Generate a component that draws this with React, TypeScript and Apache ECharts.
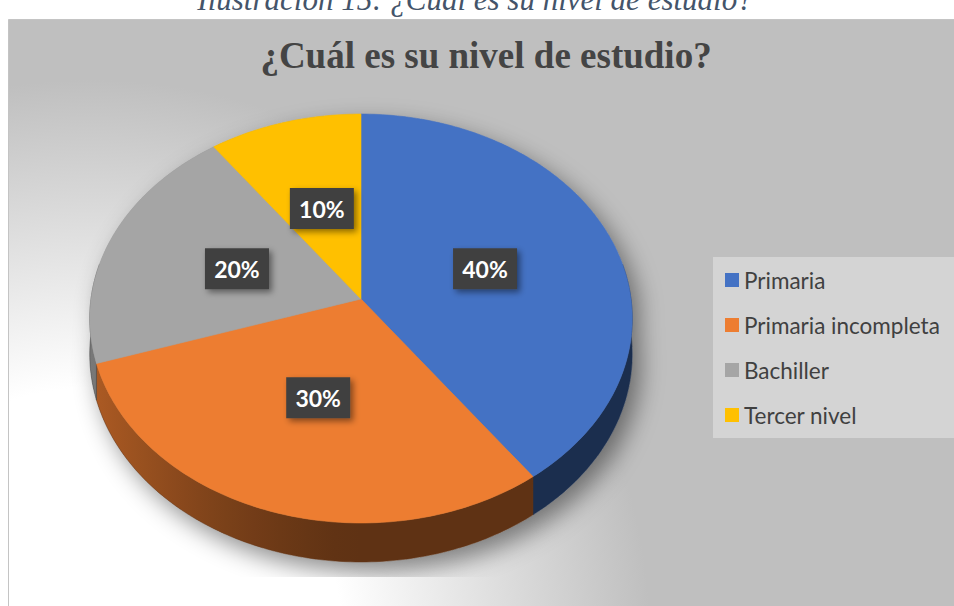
import React, { useEffect, useRef } from 'react';
import * as echarts from 'echarts';

const categories = ['Primaria', 'Primaria incompleta', 'Bachiller', 'Tercer nivel'];
const values = [40, 30, 20, 10];
const colors = ['#4472c4', '#ed7d31', '#a5a5a5', '#ffc000'];
const chartTitle = '¿Cuál es su nivel de estudio?';
const captionText = 'Ilustración 15: ¿Cuál es su nivel de estudio?';

// projection of the tilted disc (perspective)
const CX = 361, CY = 299, RX = 270, RY = 202.6, K = 0.0954, DEPTH = 35.3;
const LABEL_F = 0.49;

function proj(deg: number, f = 1, drop = 0): number[] {
  const t = (deg * Math.PI) / 180;
  const u = Math.sin(t) * f;
  const v = -Math.cos(t) * f;
  const s = 1 / (1 - K * v);
  return [CX + RX * u * s, CY + (RY * v + drop) * s];
}

function hexRgb(hex: string) {
  const n = parseInt(hex.slice(1), 16);
  return [(n >> 16) & 255, (n >> 8) & 255, n & 255];
}
function shade(hex: string, f: number) {
  const [r, g, b] = hexRgb(hex);
  return `rgb(${Math.round(r * f)},${Math.round(g * f)},${Math.round(b * f)})`;
}
function wallFactor(u: number) {
  return 0.4 + 0.33 * Math.pow(Math.max(0, -u), 1.5);
}

const bgGradient = () => ({
  type: 'radial',
  x: 90,
  y: 640,
  r: 560,
  global: true,
  colorStops: [
    { offset: 0, color: '#ffffff' },
    { offset: 0.45, color: '#ffffff' },
    { offset: 1, color: '#bfbfbf' },
  ],
});

export default function App() {
  const ref = useRef<HTMLDivElement>(null);
  useEffect(() => {
    if (!ref.current) return;
    const chart = echarts.init(ref.current, null, { renderer: 'svg' });
    const total = values.reduce((a, b) => a + b, 0);
    const cum = values.map((_, i) => values.slice(0, i).reduce((a, b) => a + b, 0));
    const data = values.map((v, i) => [i, v]);

    const sliceAngles = (i: number, v: number) => {
      const a0 = (cum[i] / total) * 360;
      return [a0, a0 + (v / total) * 360];
    };

    // silhouette for shadow
    const outline: number[][] = [];
    for (let d = 0; d <= 360; d += 2) {
      outline.push(d >= 90 && d <= 270 ? proj(d, 1, DEPTH) : proj(d));
    }

    const option: any = {
      animation: false,
      color: colors,
      title: [
        {
          text: captionText,
          left: 475,
          top: -16,
          padding: 0,
          textAlign: 'center',
          textStyle: {
            fontFamily: 'Liberation Serif',
            fontStyle: 'italic',
            fontWeight: 'normal',
            fontSize: 31,
            color: '#44546a',
          },
        },
        {
          text: chartTitle,
          left: 486,
          top: 37,
          padding: 0,
          textAlign: 'center',
          textStyle: {
            fontFamily: 'Liberation Serif',
            fontWeight: 'bold',
            fontSize: 37,
            color: '#444444',
          },
        },
      ],
      legend: {
        data: categories,
        orient: 'vertical',
        left: 725,
        top: 268,
        padding: 0,
        itemWidth: 14,
        itemHeight: 14,
        itemGap: 21,
        icon: 'rect',
        selectedMode: false,
        z: 5,
        textStyle: { fontFamily: 'Lato', fontSize: 22.5, color: '#404040', lineHeight: 24 },
      },
      graphic: [
        { type: 'rect', z: -10, shape: { x: 8.5, y: 19.5, width: 960, height: 600 }, style: { fill: bgGradient() } },
        {
          type: 'polygon',
          z: -9,
          shape: { points: outline },
          style: {
            fill: '#9a9a9a',
            shadowBlur: 24,
            shadowOffsetX: 8,
            shadowOffsetY: 10,
            shadowColor: 'rgba(0,0,0,0.45)',
          },
        },
        { type: 'rect', z: -8, shape: { x: 9, y: 577, width: 960, height: 40 }, style: { fill: bgGradient() } },
        { type: 'rect', z: -7, shape: { x: 8.5, y: 19.5, width: 960, height: 600 }, style: { fill: 'none', stroke: '#c4c4c4', lineWidth: 1 } },
        { type: 'rect', z: -6, shape: { x: 713, y: 257, width: 241, height: 181 }, style: { fill: '#d4d4d4' } },
      ],
      series: [
        {
          type: 'pie',
          name: 'legend',
          center: [-300, -300],
          radius: 5,
          silent: true,
          label: { show: false },
          labelLine: { show: false },
          data: categories.map((c, i) => ({ name: c, value: values[i] })),
        },
        {
          type: 'custom',
          name: 'walls',
          coordinateSystem: 'none',
          z: 2,
          silent: true,
          data,
          renderItem: (params: any, api: any) => {
            const i = params.dataIndex;
            const [a0, a1] = sliceAngles(i, api.value(1));
            const lo = Math.max(a0, 80);
            const hi = Math.min(a1, 280);
            if (hi <= lo) return { type: 'group', children: [] };
            const top: number[][] = [];
            const bot: number[][] = [];
            const n = Math.max(2, Math.ceil(hi - lo));
            for (let k = 0; k <= n; k++) {
              const d = lo + ((hi - lo) * k) / n;
              top.push(proj(d));
              bot.push(proj(d, 1, DEPTH));
            }
            const stops = [];
            for (let s = 0; s <= 20; s++) {
              const t = s / 20;
              const u = -1 + 2 * t;
              stops.push({ offset: t, color: shade(colors[i], wallFactor(u)) });
            }
            return {
              type: 'polygon',
              shape: { points: top.concat(bot.reverse()) },
              style: {
                fill: { type: 'linear', x: CX - RX, y: 0, x2: CX + RX, y2: 0, global: true, colorStops: stops },
                stroke: shade(colors[i], 0.42),
                lineWidth: 0.5,
              },
            };
          },
        },
        {
          type: 'custom',
          name: 'tops',
          coordinateSystem: 'none',
          z: 3,
          silent: true,
          data,
          renderItem: (params: any, api: any) => {
            const i = params.dataIndex;
            const [a0, a1] = sliceAngles(i, api.value(1));
            const pts: number[][] = [proj(0, 0)];
            const n = Math.max(2, Math.ceil(a1 - a0));
            for (let k = 0; k <= n; k++) pts.push(proj(a0 + ((a1 - a0) * k) / n));
            return {
              type: 'polygon',
              shape: { points: pts },
              style: { fill: colors[i], stroke: colors[i], lineWidth: 0.6, lineJoin: 'round' },
            };
          },
        },
        {
          type: 'custom',
          name: 'labels',
          coordinateSystem: 'none',
          z: 4,
          silent: true,
          data,
          renderItem: (params: any, api: any) => {
            const i = params.dataIndex;
            const v = api.value(1);
            const [a0, a1] = sliceAngles(i, v);
            const [x, y] = proj((a0 + a1) / 2, LABEL_F);
            const w = 64, h = 41;
            return {
              type: 'group',
              children: [
                {
                  type: 'rect',
                  shape: { x: x - w / 2, y: y - h / 2, width: w, height: h },
                  style: {
                    fill: '#404040',
                    shadowBlur: 6,
                    shadowOffsetX: 3,
                    shadowOffsetY: 3,
                    shadowColor: 'rgba(0,0,0,0.45)',
                  },
                },
                {
                  type: 'text',
                  style: {
                    text: Math.round((v / total) * 100) + '%',
                    x,
                    y,
                    align: 'center',
                    verticalAlign: 'middle',
                    fill: '#ffffff',
                    fontFamily: 'Lato',
                    fontWeight: 'bold',
                    fontSize: 23,
                  },
                },
              ],
            };
          },
        },
      ],
    };
    chart.setOption(option);
    return () => chart.dispose();
  }, []);
  return (
    <div
      ref={ref}
      style={{ position: 'absolute', left: 0, top: 0, width: 954, height: 606, background: '#ffffff' }}
    />
  );
}
